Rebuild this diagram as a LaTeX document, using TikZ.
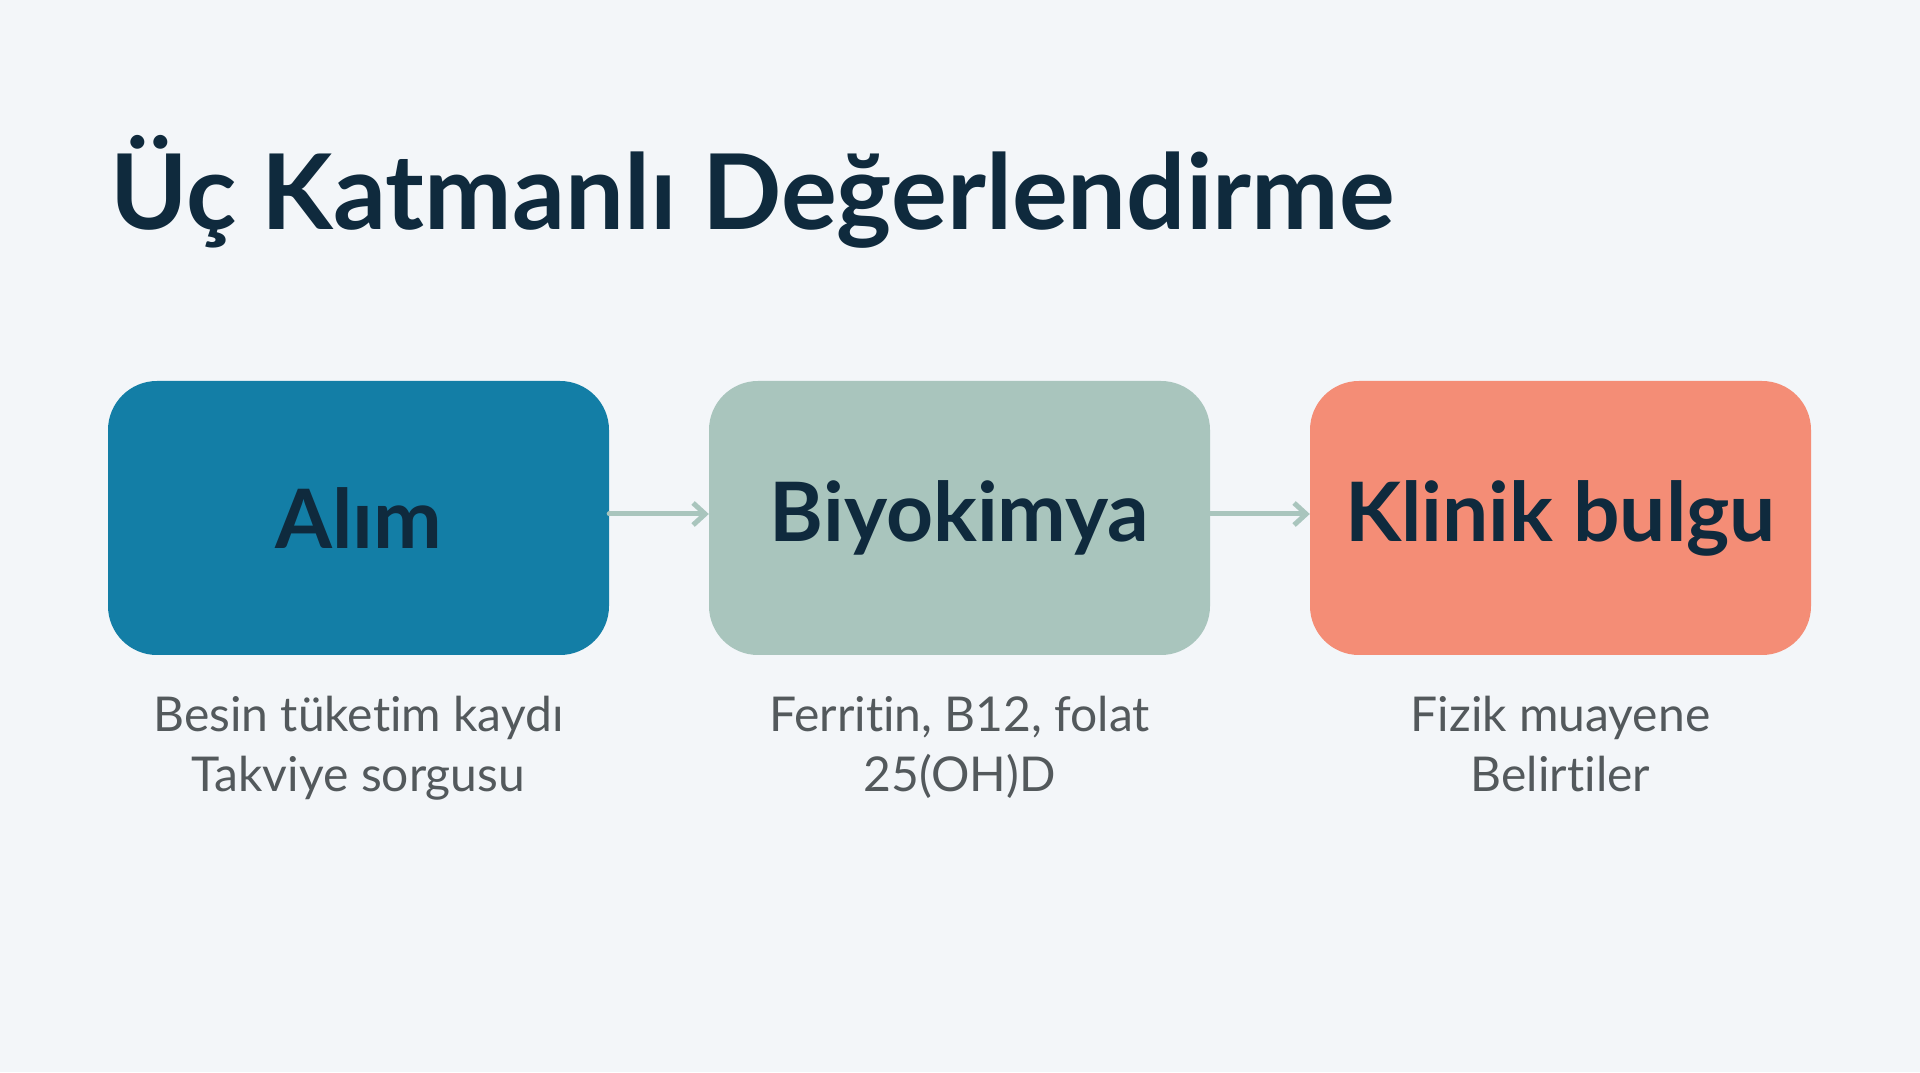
\documentclass[tikz,border=0pt]{standalone}
\usepackage{fontspec}
\setmainfont{Lato}[Ligatures=NoCommon]
\usetikzlibrary{arrows.meta}

\definecolor{bgcol}{HTML}{F3F6F9}
\definecolor{inkcol}{HTML}{0F2A3D}
\definecolor{subcol}{HTML}{53595C}
\definecolor{alimcol}{HTML}{137EA6}
\definecolor{biyocol}{HTML}{A9C5BD}
\definecolor{kliniccol}{HTML}{F48D76}

\tikzset{
    title/.style={anchor=base west, inner sep=0pt, text=inkcol,
        font=\fontsize{104.5}{112}\selectfont\bfseries},
    layerbox/.style={rounded corners=49pt, minimum width=501pt,
        minimum height=274pt, inner sep=0pt, text=inkcol,
        font=\fontsize{82}{90}\selectfont\bfseries},
    subtext/.style={anchor=base, inner sep=0pt, text=subcol,
        font=\fontsize{48}{56}\selectfont},
    flow/.style={-{Straight Barb[length=12pt,width=22pt,line width=5pt]},
        line width=5pt, draw=biyocol, line cap=round}
}

\begin{document}
\begin{tikzpicture}[x=1pt, y=1pt]
    \fill[bgcol] (0,0) rectangle (1920,1072);
    \node[title] (title) at (110,842) {Üç Katmanlı Değerlendirme};
    \foreach[count=\i] \lcol/\lname/\lsubi/\lsubii in {
        alimcol/Alım/Besin tüketim kaydı/Takviye sorgusu,
        biyocol/Biyokimya/{Ferritin, B12, folat}/25(OH)D,
        kliniccol/Klinik bulgu/Fizik muayene/Belirtiler} {
        \node[layerbox, fill=\lcol] (b-\i) at ({358.5+601*(\i-1)},554) {\lname};
        \node[subtext] (s-\i-1) at ({358.5+601*(\i-1)},340) {\lsubi};
        \node[subtext] (s-\i-2) at ({358.5+601*(\i-1)},280) {\lsubii};
    }
    \draw[flow] ([yshift=4pt]b-1.east) -- ([yshift=4pt]b-2.west);
    \draw[flow] ([yshift=4pt]b-2.east) -- ([yshift=4pt]b-3.west);
\end{tikzpicture}
\end{document}
